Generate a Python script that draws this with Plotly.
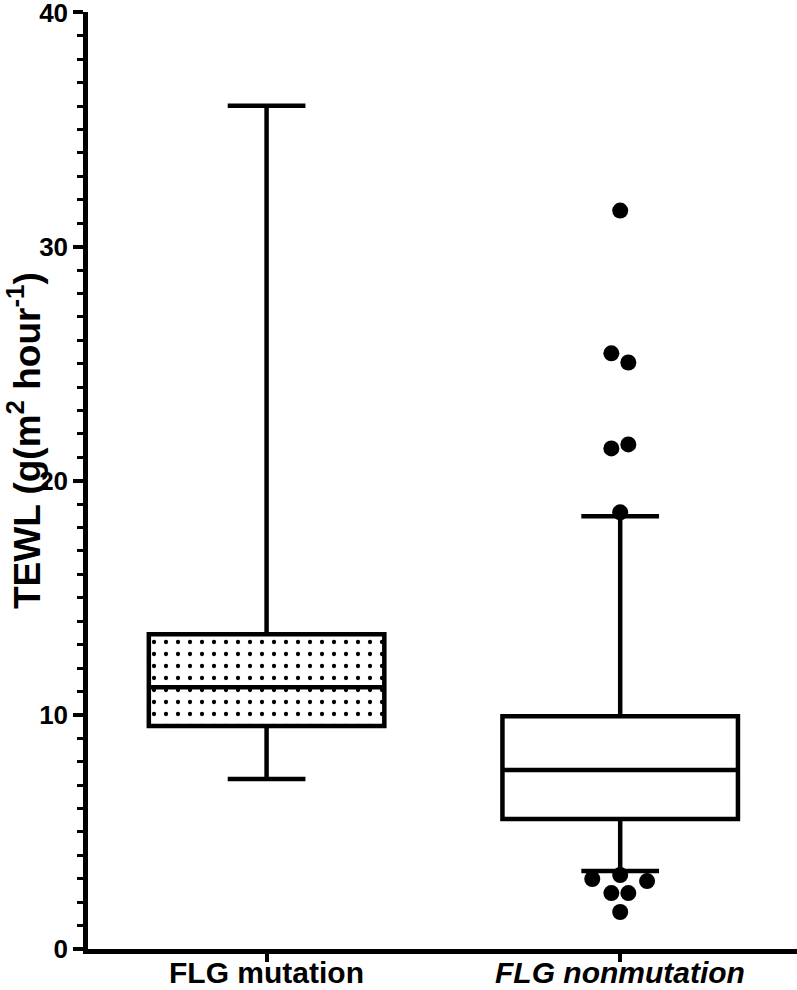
import plotly.graph_objects as go

# ---- data ----
categories = ["FLG mutation", "FLG nonmutation"]
tick_labels = ["<b>FLG mutation</b>", "<b><i>FLG nonmutation</i></b>"]
positions = [1, 2]
q1 = [9.52, 5.55]
median = [11.18, 7.64]
q3 = [13.44, 9.94]
lower_whisker = [7.26, 3.33]
upper_whisker = [36.02, 18.48]

# outliers of FLG nonmutation group
outlier_values = [31.54, 25.44, 25.05, 21.55, 21.38, 18.65,
                  3.16, 2.99, 2.90, 2.39, 2.39, 1.58]
outlier_jitter = [0.0, -0.025, 0.023, 0.023, -0.025, 0.0,
                  0.0, -0.079, 0.076, -0.025, 0.023, 0.0]

fig = go.Figure()

# patterned fill for first box
fig.add_trace(go.Bar(
    x=[positions[0]], base=[q1[0]], y=[q3[0] - q1[0]], width=0.666,
    marker=dict(color="white", line=dict(width=0),
                pattern=dict(shape=".", fgcolor="black", bgcolor="white",
                             fgopacity=1, size=12, solidity=0.1)),
    showlegend=False, hoverinfo="skip"))

fig.add_trace(go.Box(
    x=positions, q1=q1, median=median, q3=q3,
    lowerfence=lower_whisker, upperfence=upper_whisker,
    width=0.666, whiskerwidth=0.33, boxpoints=False,
    fillcolor="rgba(0,0,0,0)", line=dict(color="black", width=4.5),
    showlegend=False))

fig.add_trace(go.Scatter(
    x=[positions[1] + j for j in outlier_jitter], y=outlier_values,
    mode="markers", marker=dict(color="black", size=16),
    cliponaxis=False, showlegend=False))

fnt = dict(family="Liberation Sans, Arial, sans-serif", color="black")

# category labels placed under the ticks
cat_annotations = [dict(
    text=lab, xref="x", yref="paper", x=pos, y=(949 - 973) / 937,
    xanchor="center", yanchor="middle", showarrow=False,
    font=dict(size=30, weight="bold", **fnt))
    for lab, pos in zip(tick_labels, positions)]

fig.update_layout(
    width=797, height=990,
    margin=dict(l=88, r=0, t=12, b=41, autoexpand=False),
    paper_bgcolor="white", plot_bgcolor="white",
    barmode="overlay",
    xaxis=dict(range=[0.495, 2.5], tickvals=positions, showticklabels=False,
               ticks="outside", ticklen=8, tickwidth=3.5, tickcolor="black",
               showline=True, linecolor="black", linewidth=4.5,
               showgrid=False, zeroline=False, automargin=False),
    yaxis=dict(range=[0, 40.02], tickvals=[0, 10, 20, 30, 40],
               ticks="outside", ticklen=10, tickwidth=3.5, tickcolor="black",
               ticklabeloverflow="allow", automargin=False,
               minor=dict(dtick=1, ticks="outside", ticklen=6, tickwidth=3,
                          tickcolor="black", showgrid=False),
               showline=True, linecolor="black", linewidth=4.5,
               showgrid=False, zeroline=False,
               tickfont=dict(size=26, weight="bold", **fnt)),
    annotations=[dict(
        text="TEWL (g(m<sup>2</sup> hour<sup>-1</sup>)",
        xref="paper", yref="paper", x=(24 - 88) / 709, y=(949 - 441) / 937,
        xanchor="center", yanchor="middle", textangle=-90, showarrow=False,
        font=dict(size=37, weight="bold", **fnt))] + cat_annotations,
)

fig.write_html("out.html", config={"displayModeBar": False},
               post_script="document.body.style.margin='0px';document.body.style.padding='0px';")
